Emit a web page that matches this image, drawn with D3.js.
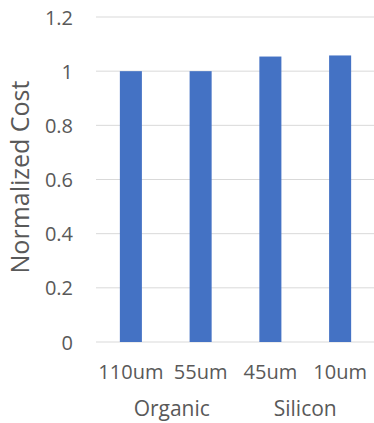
<!DOCTYPE html>
<html>
<head>
<meta charset="utf-8">
<script src="https://cdn.jsdelivr.net/npm/d3@7"></script>
<style>
  html, body { margin: 0; padding: 0; background: #fff; }
  svg { display: block; }
  text { font-family: "Open Sans", Lato, sans-serif; fill: #595959; }
</style>
</head>
<body>
<svg id="chart" width="374" height="423"></svg>
<script>
const categories = ["110um", "55um", "45um", "10um"];
const groups = ["Organic", "Organic", "Silicon", "Silicon"];
const groupLabels = ["Organic", "Silicon"];
const values = [1.0, 1.0, 1.054, 1.058];
const yTicks = [0, 0.2, 0.4, 0.6, 0.8, 1, 1.2];
const yTitle = "Normalized Cost";

const svg = d3.select("#chart");
const x = d3.scaleBand().domain(categories).range([96, 375]).paddingInner(0.684).paddingOuter(0.342);
const y = d3.scaleLinear().domain([0, 1.2]).range([342, 17]);

// gridlines
svg.append("g").selectAll("line").data(yTicks).join("line")
  .attr("x1", 96).attr("x2", 374)
  .attr("y1", d => y(d)).attr("y2", d => y(d))
  .attr("stroke", "#d9d9d9").attr("stroke-width", 1);

// y axis labels
const yAxis = d3.axisLeft(y).tickValues(yTicks).tickFormat(d => String(d)).tickSize(0).tickPadding(0);
const ya = svg.append("g").attr("transform", "translate(73,0)").call(yAxis);
ya.select(".domain").remove();
ya.selectAll("text").style("font-size", "20px").attr("fill", "#595959")
  .style("font-family", "'Open Sans', Lato, sans-serif").attr("dy", "0.35em").attr("x", 0);

// bars
svg.append("g").selectAll("rect").data(values).join("rect")
  .attr("x", (d, i) => x(categories[i]))
  .attr("width", x.bandwidth())
  .attr("y", d => y(d))
  .attr("height", d => y(0) - y(d))
  .attr("fill", "#4472C4");

// x axis category labels
const xAxis = d3.axisBottom(x).tickSize(0).tickPadding(0);
const xa = svg.append("g").attr("transform", "translate(0,366)").call(xAxis);
xa.select(".domain").remove();
xa.selectAll("text").style("font-size", "20px").attr("fill", "#595959")
  .style("font-family", "'Open Sans', Lato, sans-serif").attr("dy", "0.71em").attr("y", -1.5);

// group labels
const groupOffset = { "Organic": 6, "Silicon": 0 };
svg.append("g").selectAll("text").data(groupLabels).join("text")
  .attr("x", g => {
    const cs = categories.filter((c, i) => groups[i] === g);
    return d3.mean(cs, c => x(c) + x.bandwidth() / 2) + groupOffset[g];
  })
  .attr("y", 409)
  .attr("dy", "0.35em")
  .attr("text-anchor", "middle")
  .style("font-size", "21px")
  .text(g => g);

// y title
svg.append("text")
  .attr("transform", "translate(20,177) rotate(-90)")
  .attr("text-anchor", "middle")
  .attr("dy", "0.35em")
  .style("font-size", "25px")
  .text(yTitle);
</script>
</body>
</html>
